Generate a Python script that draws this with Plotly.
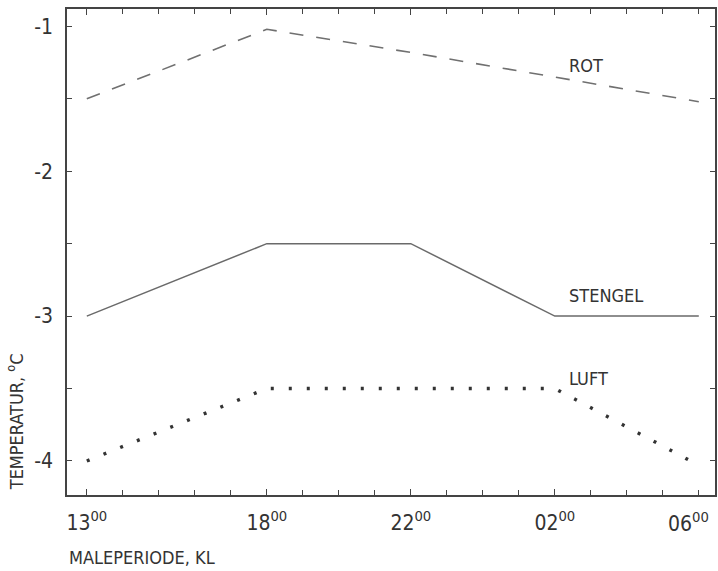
import plotly.graph_objects as go

# Measurement times (hours after 13:00) and their clock labels
hours = [0, 5, 9, 13, 17]
clock_labels = ["13", "18", "22", "02", "06"]

# Temperatures, deg C
rot = [-1.50, -1.02, -1.18, -1.35, -1.52]
stengel = [-3.00, -2.50, -2.50, -3.00, -3.00]
luft = [-4.00, -3.50, -3.50, -3.50, -4.03]

y_ticks = [-1, -2, -3, -4]

FONT = "Liberation Sans Narrow, DejaVu Sans Condensed, Arial Narrow, sans-serif"
AXIS_COLOR = "#444444"
TEXT_COLOR = "#333333"

def clock_text(c):
    return f"{c}<sup>00</sup>"

fig = go.Figure()
fig.add_trace(go.Scatter(x=hours, y=rot, mode="lines",
                         line=dict(color="#707070", width=1.6, dash="14px,13px")))
fig.add_trace(go.Scatter(x=hours, y=stengel, mode="lines",
                         line=dict(color="#6a6a6a", width=1.5)))
fig.add_trace(go.Scatter(x=hours, y=luft, mode="lines",
                         line=dict(color="#333333", width=3.4, dash="3px,15px")))

# Series names written next to the curves
for name, yv in [("ROT", -1.27), ("STENGEL", -2.855), ("LUFT", -3.43)]:
    fig.add_annotation(x=13.35, y=yv, text=name, showarrow=False,
                       xanchor="left", yanchor="middle",
                       font=dict(family=FONT, size=18, color=TEXT_COLOR))

# The last clock label sits at the right edge, so it is pulled inward
fig.add_annotation(x=hours[-1], xref="x", yref="paper", y=-0.056,
                   text=clock_text(clock_labels[-1]), showarrow=False,
                   xanchor="center", yanchor="middle", xshift=-10,
                   font=dict(family=FONT, size=21, color=TEXT_COLOR))

fig.add_annotation(xref="paper", yref="paper", x=0.0, y=-0.128,
                   text="MALEPERIODE, KL", showarrow=False,
                   xanchor="left", yanchor="middle",
                   font=dict(family=FONT, size=18, color=TEXT_COLOR))
fig.add_annotation(xref="paper", yref="paper", x=-0.08, y=0.15,
                   text="TEMPERATUR, <sup>o</sup>C", showarrow=False,
                   textangle=-90, xanchor="center", yanchor="middle",
                   font=dict(family=FONT, size=18, color=TEXT_COLOR))

fig.update_xaxes(
    range=[-0.55, 17.45], showgrid=False, zeroline=False,
    showline=True, linecolor=AXIS_COLOR, linewidth=1.5, mirror="allticks",
    tickmode="array", tickvals=hours[:-1],
    ticktext=[clock_text(c) for c in clock_labels[:-1]],
    ticks="inside", ticklen=6, tickcolor=AXIS_COLOR, tickwidth=1.2,
    ticklabelstandoff=8,
    tickfont=dict(family=FONT, size=21, color=TEXT_COLOR),
    minor=dict(tickmode="linear", tick0=0, dtick=1, ticks="inside",
               ticklen=5, tickcolor=AXIS_COLOR, tickwidth=1.2, showgrid=False),
)
fig.update_yaxes(
    range=[-4.235, -0.88], showgrid=False, zeroline=False,
    showline=True, linecolor=AXIS_COLOR, linewidth=1.5, mirror="allticks",
    tickmode="array", tickvals=y_ticks, ticktext=[str(v) for v in y_ticks],
    ticks="inside", ticklen=5, tickcolor=AXIS_COLOR, tickwidth=1.2,
    ticklabelstandoff=8,
    tickfont=dict(family=FONT, size=21, color=TEXT_COLOR),
    minor=dict(tickmode="linear", tick0=-4, dtick=0.5, ticks="inside",
               ticklen=5, tickcolor=AXIS_COLOR, tickwidth=1.2, showgrid=False),
)

fig.update_layout(
    width=718, height=571,
    margin=dict(l=67, r=1, t=9, b=76),
    paper_bgcolor="white", plot_bgcolor="white",
    showlegend=False,
)

fig.write_html("out.html")
